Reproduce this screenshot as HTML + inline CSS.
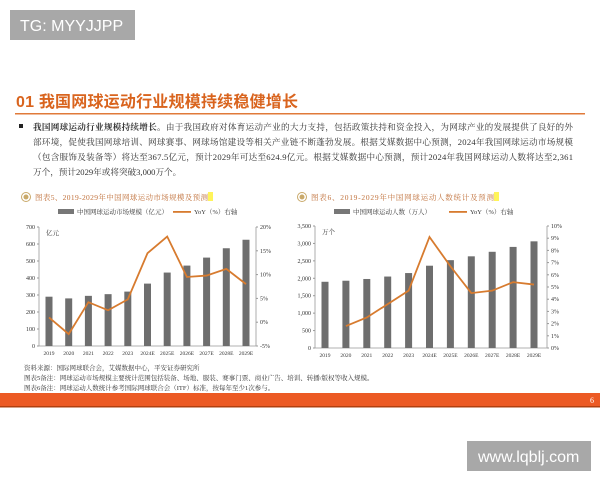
<!DOCTYPE html>
<html><head><meta charset="utf-8"><style>
body{margin:0;width:600px;height:480px;overflow:hidden;background:#fff;font-family:"Liberation Serif","Noto Serif CJK SC",serif;}
svg text{font-family:"Liberation Serif","Noto Serif CJK SC",serif;}
</style></head><body>
<svg id="s" width="600" height="480" xmlns="http://www.w3.org/2000/svg">
<rect x="10" y="10" width="125" height="30" fill="#a8a8a8"/>
<text x="20" y="31" font-size="16" fill="#fff" style="font-family:'Liberation Sans',sans-serif">TG: MYYJJPP</text>
<text x="16" y="107" font-size="16" font-weight="bold" fill="#d9641e" textLength="282" style="font-family:'Liberation Sans','Noto Sans CJK SC',sans-serif">01 我国网球运动行业规模持续稳健增长</text>
<rect x="15" y="113" width="570" height="1.5" fill="#e07a3a"/>
<rect x="19" y="124" width="4" height="4" fill="#222"/>
<text x="33" y="130" font-size="8.6" fill="#333" textLength="540"><tspan font-weight="bold">我国网球运动行业规模持续增长。</tspan>由于我国政府对体育运动产业的大力支持，包括政策扶持和资金投入，为网球产业的发展提供了良好的外</text>
<text x="33" y="145" font-size="8.6" fill="#333" textLength="540">部环境，促使我国网球培训、网球赛事、网球场馆建设等相关产业链不断蓬勃发展。根据艾媒数据中心预测，2024年我国网球运动市场规模</text>
<text x="33" y="160" font-size="8.6" fill="#333" textLength="540">（包含服饰及装备等）将达至367.5亿元，预计2029年可达至624.9亿元。根据艾媒数据中心预测，预计2024年我国网球运动人数将达至2,361</text>
<text x="33" y="175" font-size="8.6" fill="#333">万个，预计2029年或将突破3,000万个。</text>
<g id="c"></g>
<text font-size="6.5" fill="#333">
<tspan x="24" y="370">资料来源：国际网球联合会，艾媒数据中心，平安证券研究所</tspan>
<tspan x="24" y="380">图表5备注：网球运动市场规模主要统计范围包括装备、场地、服装、赛事门票、商业广告、培训、转播/版权等收入规模。</tspan>
<tspan x="24" y="390">图表6备注：网球运动人数统计参考国际网球联合会（ITF）标准，按每年至少1次参与。</tspan>
</text>
<rect x="0" y="393" width="600" height="14" fill="#ec5a24"/>
<rect x="0" y="406" width="600" height="1.5" fill="#b04010"/>
<text x="590" y="403" font-size="8" fill="#fff">6</text>
<rect x="467" y="441" width="124" height="30" fill="#a8a8a8"/>
<text x="478" y="462" font-size="16" fill="#fff" style="font-family:'Liberation Sans',sans-serif">www.lqblj.com</text>
</svg>
<script>
var g=document.getElementById('c'),h='';
function T(x,y,s,sz,fill,anchor,tl){h+='<text x="'+x+'" y="'+y+'" font-size="'+sz+'" fill="'+(fill||'#333')+'" text-anchor="'+(anchor||'start')+'"'+(tl?' textLength="'+tl+'"':'')+'>'+s+'</text>';}
var yrs=['2019','2020','2021','2022','2023','2024E','2025E','2026E','2027E','2028E','2029E'];
function chart(o){
 var L=o.L,R=o.R,top=o.top,bot=o.bot;
 h+='<circle cx="'+(L-13)+'" cy="197" r="4.5" fill="none" stroke="#c9a96a"/><circle cx="'+(L-13)+'" cy="197" r="2.5" fill="#c9a96a"/>';
 h+='<rect x="'+o.hlx+'" y="192" width="5" height="9" fill="#fff45a"/>';
 T(L-4,200,o.title,7.5,'#c0703a','start',o.tl);
 h+='<rect x="'+(L+19)+'" y="209" width="16" height="5" fill="#777"/>';T(L+38,214,o.leg,6.5);
 h+='<rect x="'+(L+134)+'" y="211" width="18" height="1.8" fill="#d77b2f"/>';T(L+155,214,'YoY（%）右轴',6.5);
 h+='<line x1="'+L+'" y1="'+top+'" x2="'+L+'" y2="'+bot+'" stroke="#999" stroke-width="0.8"/>';
 h+='<line x1="'+R+'" y1="'+top+'" x2="'+R+'" y2="'+bot+'" stroke="#999" stroke-width="0.8"/>';
 h+='<line x1="'+L+'" y1="'+bot+'" x2="'+R+'" y2="'+bot+'" stroke="#999" stroke-width="0.8"/>';
 for(var i=0;i<o.lt.length;i++){var y=bot-(bot-top)*i/(o.lt.length-1);T(L-4,y+2,o.lt[i],6,'#333','end');h+='<line x1="'+(L-2)+'" y1="'+y+'" x2="'+L+'" y2="'+y+'" stroke="#999"/>';}
 for(i=0;i<o.rt.length;i++){y=bot-(bot-top)*i/(o.rt.length-1);T(R+4,y+2,o.rt[i],6);h+='<line x1="'+R+'" y1="'+y+'" x2="'+(R+2)+'" y2="'+y+'" stroke="#999"/>';}
 T(L+7,top+8,o.unit,6.5);
 var pts=[];
 for(i=0;i<11;i++){var cx=o.x0+i*o.dx;var bh=(bot-top)*o.v[i]/o.lmax;
  h+='<rect x="'+(cx-3.5)+'" y="'+(bot-bh)+'" width="7" height="'+bh+'" fill="#6e6e6e"/>';
  T(cx,bot+9,yrs[i],5.5,'#333','middle');
  if(o.r[i]!=null)pts.push(cx+','+(bot-(bot-top)*(o.r[i]-o.rmin)/(o.rmax-o.rmin)));}
 h+='<polyline points="'+pts.join(' ')+'" fill="none" stroke="#d77b2f" stroke-width="1.8"/>';
}
chart({L:39,R:256,top:227,bot:346,x0:49,dx:19.7,lmax:700,rmin:-5,rmax:20,hlx:208,tl:173,
 title:'图表5、2019-2029年中国网球运动市场规模及预测',leg:'中国网球运动市场规模（亿元）',unit:'亿元',
 lt:['0','100','200','300','400','500','600','700'],rt:['-5%','0%','5%','10%','15%','20%'],
 v:[290,280,295,305,320,367,432,473,520,575,625],r:[1,-2.5,4.2,2.5,4.8,14.5,18,9.5,9.8,11.2,8]});
chart({L:315,R:547,top:226,bot:348,x0:325,dx:20.9,lmax:3500,rmin:0,rmax:10,hlx:494,tl:183,
 title:'图表6、2019-2029年中国网球运动人数统计及预测',leg:'中国网球运动人数（万人）',unit:'万个',
 lt:['0','500','1,000','1,500','2,000','2,500','3,000','3,500'],rt:['0%','1%','2%','3%','4%','5%','6%','7%','8%','9%','10%'],
 v:[1900,1930,1980,2050,2150,2361,2520,2630,2760,2900,3060],r:[null,1.8,2.5,3.6,4.7,9.1,6.7,4.5,4.7,5.4,5.2]});
g.innerHTML=h;
</script>
</body></html>
